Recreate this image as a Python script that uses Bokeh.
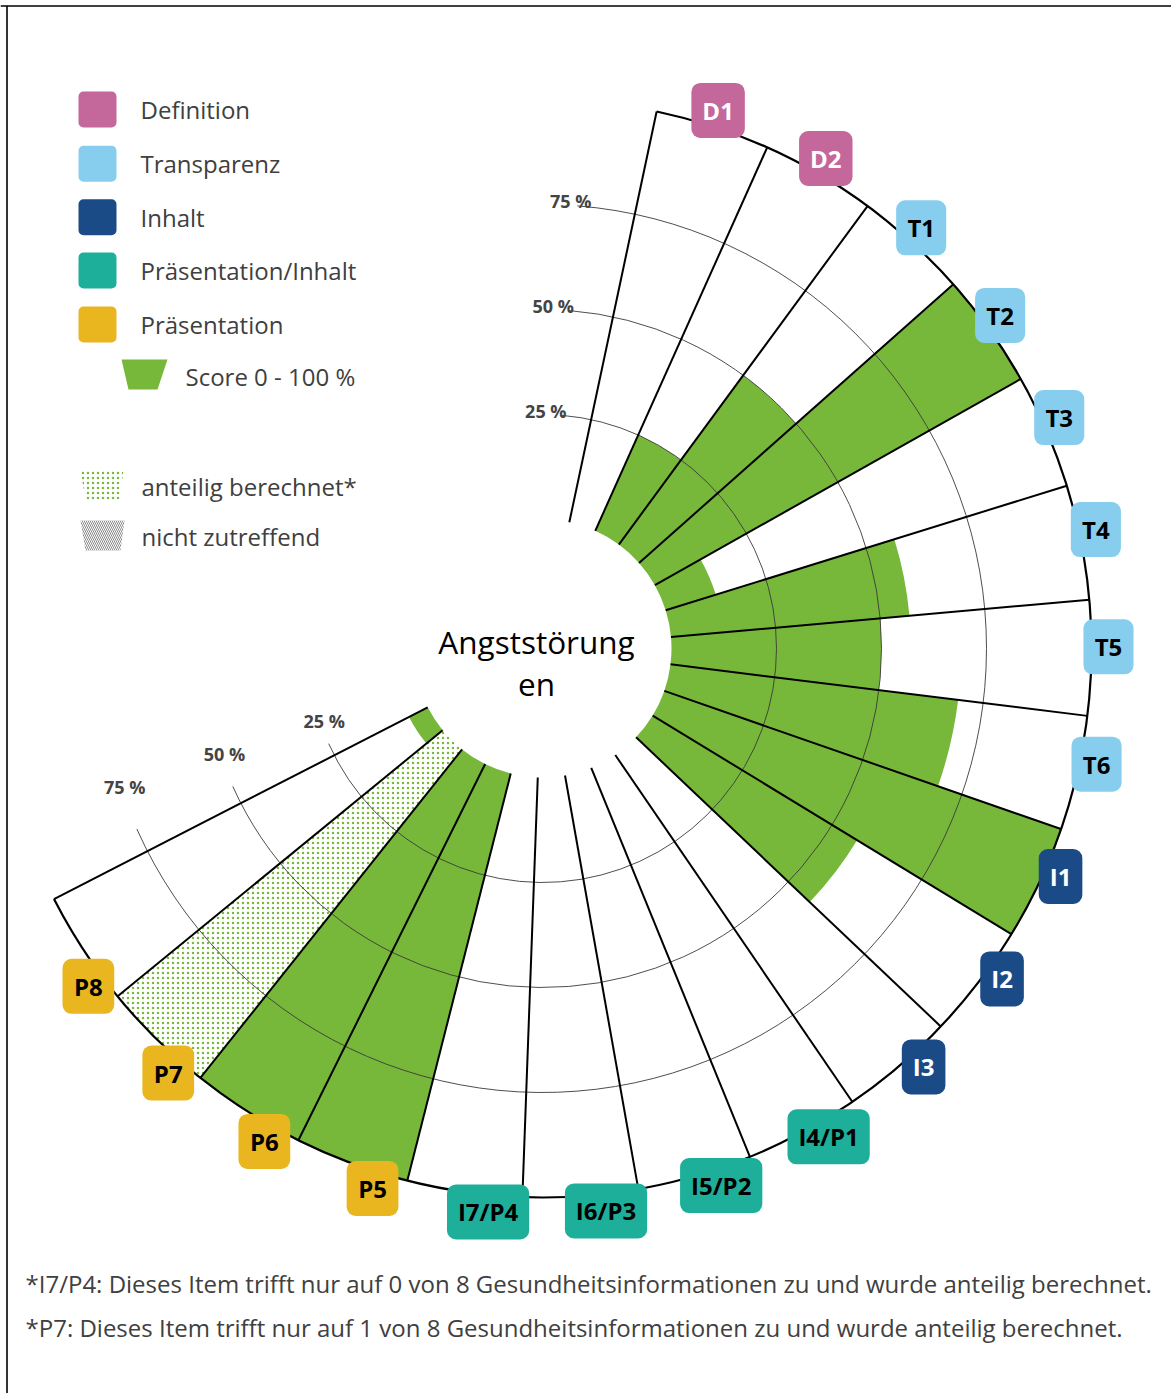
import math
from bokeh.plotting import figure
from bokeh.models import Range1d
from bokeh.core.properties import value
from bokeh.embed import file_html
from bokeh.resources import INLINE

# ---------------- data ----------------
items = ["D1", "D2", "T1", "T2", "T3", "T4", "T5", "T6", "I1", "I2", "I3",
         "I4/P1", "I5/P2", "I6/P3", "I7/P4", "P5", "P6", "P7", "P8"]
item_groups = (["Definition"] * 2 + ["Transparenz"] * 6 + ["Inhalt"] * 3 +
               ["Präsentation/Inhalt"] * 4 + ["Präsentation"] * 4)
scores = [0, 25, 50, 100, 12.5, 57, 50, 69, 100, 57, 0, 0, 0, 0, 0, 100, 100, 100, 5]
anteilig_items = ["I7/P4", "P7"]

legend_groups = ["Definition", "Transparenz", "Inhalt", "Präsentation/Inhalt", "Präsentation"]
group_colors = ["#C4679A", "#87CEEE", "#1B4B87", "#1EAF9B", "#EAB620"]
group_text_colors = ["white", "black", "white", "black", "black"]

grid_levels = [25, 50, 75]
grid_labels = ["25 %", "50 %", "75 %"]
title_lines = ["Angststörung", "en"]
score_legend = "Score 0 - 100 %"
pattern_legend = ["anteilig berechnet*", "nicht zutreffend"]
footnotes = [
    "*I7/P4: Dieses Item trifft nur auf 0 von 8 Gesundheitsinformationen zu und wurde anteilig berechnet.",
    "*P7: Dieses Item trifft nur auf 1 von 8 Gesundheitsinformationen zu und wurde anteilig berechnet.",
]

# ---------------- geometry ----------------
W, H = 1171, 1393
GREEN = "#77B83A"
FONT = value("Open Sans")
DEG = dict(start_angle_units="deg", end_angle_units="deg")
DOTS = dict(hatch_pattern="dot", hatch_color=GREEN, hatch_scale=5, hatch_weight=3.5)


def P(X, Y):
    """page pixel -> data coords"""
    return X, H - Y


CX, CY = P(542, 648)
R0, R1 = 129, 549
A0, DA = 78.0, 12.15


def rad(v):
    return R0 + v / 100.0 * (R1 - R0)


def pol(r, a):
    return CX + r * math.cos(math.radians(a)), CY + r * math.sin(math.radians(a))


p = figure(width=W, height=H, x_range=Range1d(0, W), y_range=Range1d(0, H),
           output_backend="svg", toolbar_location=None, min_border=0,
           x_axis_location=None, y_axis_location=None)
p.grid.visible = False
p.outline_line_color = None
p.background_fill_color = "white"
p.border_fill_color = "white"

n = len(items)
starts = [A0 - DA * (i + 1) for i in range(n)]
ends = [A0 - DA * i for i in range(n)]

# score wedges
ss, se, sr = [], [], []
hs, he, hr = [], [], []
for i in range(n):
    if scores[i] <= 0:
        continue
    if items[i] in anteilig_items:
        hs.append(starts[i]); he.append(ends[i]); hr.append(rad(scores[i]))
    else:
        ss.append(starts[i]); se.append(ends[i]); sr.append(rad(scores[i]))

p.annular_wedge(x=[CX] * len(sr), y=[CY] * len(sr), inner_radius=R0, outer_radius=sr,
                start_angle=ss, end_angle=se, fill_color=GREEN, line_color=None, **DEG)
if hr:
    p.annular_wedge(x=[CX] * len(hr), y=[CY] * len(hr), inner_radius=R0, outer_radius=hr,
                    start_angle=hs, end_angle=he, fill_color="white", line_color=None,
                    **DOTS, **DEG)

# grid arcs
p.arc(x=[CX] * 3, y=[CY] * 3, radius=[rad(v) for v in grid_levels], start_angle=-156.0,
      end_angle=85.5, direction="anticlock", line_color="#3a3a3a", line_width=0.9, **DEG)

# radial frame lines
bounds = [A0 - DA * k for k in range(n + 1)]
x0 = [pol(R0, a)[0] for a in bounds]; y0 = [pol(R0, a)[1] for a in bounds]
x1 = [pol(R1, a)[0] for a in bounds]; y1 = [pol(R1, a)[1] for a in bounds]
p.segment(x0=x0, y0=y0, x1=x1, y1=y1, line_color="black", line_width=2)
p.arc(x=[CX], y=[CY], radius=R1, start_angle=bounds[-1], end_angle=bounds[0],
      direction="anticlock", line_color="black", line_width=2.2, **DEG)

# grid labels (top and left)
top_angles = [89.2, 88.2, 86.4]
tlx = [pol(rad(v) + 4, a)[0] for v, a in zip(grid_levels, top_angles)]
tly = [pol(rad(v) + 4, a)[1] for v, a in zip(grid_levels, top_angles)]
p.text(x=tlx, y=tly, text=grid_labels, text_font=FONT, text_font_size="18px",
       text_font_style="bold", text_color="#444444", text_align="center", text_baseline="middle")
llx = [pol(rad(v) - 4, 198.3)[0] for v in grid_levels]
lly = [pol(rad(v) - 4, 198.3)[1] for v in grid_levels]
p.text(x=llx, y=lly, text=grid_labels, text_font=FONT, text_font_size="18px",
       text_font_style="bold", text_color="#444444", text_align="center", text_baseline="middle")

# item label boxes
cw = {"D": 0.74, "T": 0.6, "I": 0.33, "P": 0.67, "/": 0.37}
bl, br, bt, bb, bc, tx, ty, tc = [], [], [], [], [], [], [], []
for i, it in enumerate(items):
    mid = (starts[i] + ends[i]) / 2 + 0.19 * i
    x, y = pol(566, mid)
    tw = sum(cw.get(ch, 0.57) for ch in it) * 24
    w = tw + 22
    gi = legend_groups.index(item_groups[i])
    bl.append(x - w / 2); br.append(x + w / 2); bt.append(y + 27.5); bb.append(y - 27.5)
    bc.append(group_colors[gi]); tc.append(group_text_colors[gi])
    tx.append(x); ty.append(y)
p.quad(left=bl, right=br, top=bt, bottom=bb, fill_color=bc, line_color=None, border_radius=9)
p.text(x=tx, y=ty, text=items, text_font=FONT, text_font_size="24px", text_font_style="bold",
       text_color=tc, text_align="center", text_baseline="middle")

# center title
p.text(x=[P(536, 641)[0], P(536, 683)[0]], y=[P(536, 641)[1], P(536, 683)[1]], text=title_lines,
       text_font=FONT, text_font_size="31.5px", text_color="black", text_align="center",
       text_baseline="alphabetic")

# legend squares
rows_y = [109, 163.3, 216.7, 270, 324]
p.quad(left=[P(78, 0)[0]] * 5, right=[P(116, 0)[0]] * 5,
       top=[P(0, y - 18)[1] for y in rows_y], bottom=[P(0, y + 18)[1] for y in rows_y],
       fill_color=group_colors, line_color=None, border_radius=5)
p.text(x=[P(140, 0)[0]] * 5, y=[P(0, y)[1] for y in rows_y], text=legend_groups,
       text_font=FONT, text_font_size="24px", text_color="#404040", text_align="left",
       text_baseline="middle")

# score swatch
sw = [P(121, 359), P(167, 359), P(157, 389), P(128, 389)]
p.patch(x=[a for a, b in sw], y=[b for a, b in sw], fill_color=GREEN, line_color=None)
p.text(x=[P(185, 0)[0]], y=[P(0, 376)[1]], text=[score_legend], text_font=FONT,
       text_font_size="24px", text_color="#404040", text_align="left", text_baseline="middle")

# pattern swatches
s1 = [P(80, 470), P(123, 470), P(119, 499), P(85, 499)]
p.patch(x=[a for a, b in s1], y=[b for a, b in s1], fill_color="white", line_color=None, **DOTS)
s2 = [P(80, 520), P(124, 520), P(120, 550), P(85, 550)]
p.patch(x=[a for a, b in s2], y=[b for a, b in s2], fill_color="white", line_color=None,
        hatch_pattern="left_diagonal_line", hatch_color="#8a8a8a", hatch_scale=4, hatch_weight=1)
p.text(x=[P(141, 0)[0]] * 2, y=[P(0, 486)[1], P(0, 536)[1]], text=pattern_legend, text_font=FONT,
       text_font_size="24px", text_color="#404040", text_align="left", text_baseline="middle")

# footnotes
p.text(x=[P(25, 0)[0]] * 2, y=[P(0, 1283)[1], P(0, 1327)[1]], text=footnotes, text_font=FONT,
       text_font_size="24px", text_color="#404040", text_align="left", text_baseline="middle")

# frame lines (top and left)
p.segment(x0=[0, 6.5], y0=[H - 5.5, 0], x1=[W, 6.5], y1=[H - 5.5, H - 5.5],
          line_color="black", line_width=1.6)

open("out.html", "w").write(file_html(p, INLINE))
